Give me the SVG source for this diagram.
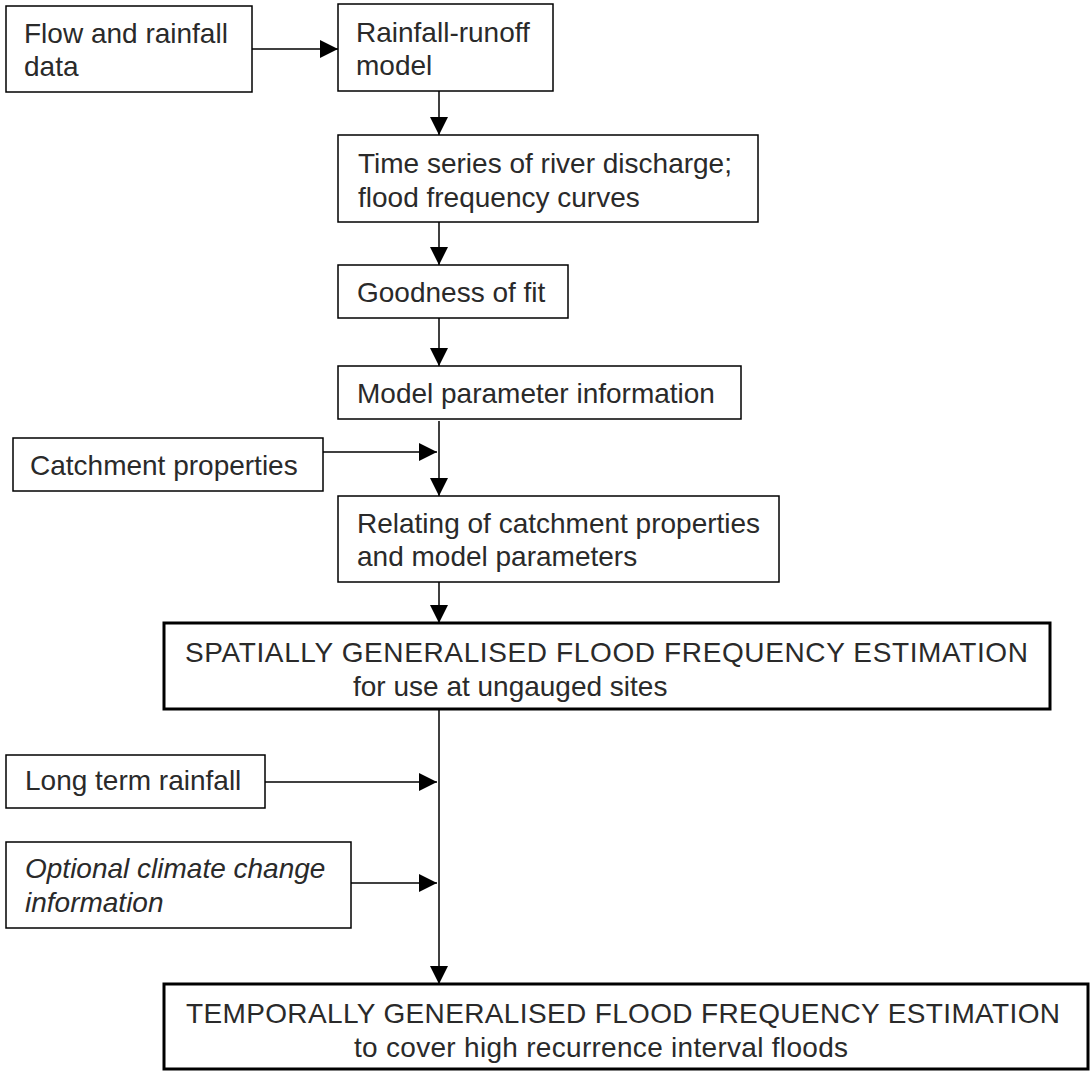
<svg xmlns="http://www.w3.org/2000/svg" width="1090" height="1074" viewBox="0 0 1090 1074">
  <style>
    .box { fill: #ffffff; stroke: #000000; stroke-width: 1.5; }
    .box-main { fill: #ffffff; stroke: #000000; stroke-width: 3; }
    .lbl { font-family: "Liberation Sans", Arial, sans-serif; font-size: 28px; fill: #2a2a2a; }
    .it { font-style: italic; }
    .conn { stroke: #000000; stroke-width: 1.5; fill: none; marker-end: url(#arrow); }
  </style>
  <defs>
    <marker id="arrow" viewBox="0 0 18 18" refX="18" refY="9" markerWidth="18" markerHeight="18" markerUnits="userSpaceOnUse" orient="auto">
      <path d="M0,0 L18,9 L0,18 Z" fill="#000000"/>
    </marker>
  </defs>
  <rect width="1090" height="1074" fill="#ffffff"/>

  <!-- connectors -->
  <g id="connectors">
    <line class="conn" x1="252" y1="49" x2="338" y2="49"/>
    <line class="conn" x1="439" y1="91" x2="439" y2="135"/>
    <line class="conn" x1="439" y1="222" x2="439" y2="265"/>
    <line class="conn" x1="439" y1="318" x2="439" y2="366"/>
    <line class="conn" x1="439" y1="421" x2="439" y2="496"/>
    <line class="conn" x1="323" y1="452" x2="437" y2="452"/>
    <line class="conn" x1="439" y1="582" x2="439" y2="623"/>
    <line class="conn" x1="439" y1="709" x2="439" y2="984"/>
    <line class="conn" x1="265" y1="782" x2="437" y2="782"/>
    <line class="conn" x1="351" y1="883" x2="437" y2="883"/>
  </g>

  <g id="flow-rainfall-data">
    <rect class="box" x="6" y="6" width="246" height="86"/>
    <text class="lbl" x="24" y="43">Flow and rainfall</text>
    <text class="lbl" x="24" y="76">data</text>
  </g>

  <g id="rainfall-runoff-model">
    <rect class="box" x="338" y="4" width="215" height="87"/>
    <text class="lbl" x="356" y="42">Rainfall-runoff</text>
    <text class="lbl" x="356" y="75">model</text>
  </g>

  <g id="time-series">
    <rect class="box" x="338" y="135" width="420" height="87"/>
    <text class="lbl" x="358" y="173">Time series of river discharge;</text>
    <text class="lbl" x="358" y="207">flood frequency curves</text>
  </g>

  <g id="goodness-of-fit">
    <rect class="box" x="338" y="265" width="230" height="53"/>
    <text class="lbl" x="357" y="302">Goodness of fit</text>
  </g>

  <g id="model-parameter-information">
    <rect class="box" x="338" y="366" width="403" height="53"/>
    <text class="lbl" x="357" y="403">Model parameter information</text>
  </g>

  <g id="catchment-properties">
    <rect class="box" x="13" y="438" width="310" height="53"/>
    <text class="lbl" x="30" y="475">Catchment properties</text>
  </g>

  <g id="relating">
    <rect class="box" x="338" y="496" width="441" height="86"/>
    <text class="lbl" x="357" y="533">Relating of catchment properties</text>
    <text class="lbl" x="357" y="566">and model parameters</text>
  </g>

  <g id="spatial-estimation">
    <rect class="box-main" x="164" y="623" width="886" height="86"/>
    <text class="lbl" x="185" y="662" textLength="843" lengthAdjust="spacing">SPATIALLY GENERALISED FLOOD FREQUENCY ESTIMATION</text>
    <text class="lbl" x="353" y="696">for use at ungauged sites</text>
  </g>

  <g id="long-term-rainfall">
    <rect class="box" x="6" y="755" width="259" height="53"/>
    <text class="lbl" x="25" y="790">Long term rainfall</text>
  </g>

  <g id="climate-change">
    <rect class="box" x="6" y="842" width="345" height="86"/>
    <text class="lbl it" x="25" y="878">Optional climate change</text>
    <text class="lbl it" x="25" y="912">information</text>
  </g>

  <g id="temporal-estimation">
    <rect class="box-main" x="164" y="984" width="924" height="85"/>
    <text class="lbl" x="186" y="1023" textLength="874" lengthAdjust="spacing">TEMPORALLY GENERALISED FLOOD FREQUENCY ESTIMATION</text>
    <text class="lbl" x="354" y="1057" textLength="494" lengthAdjust="spacing">to cover high recurrence interval floods</text>
  </g>
</svg>
